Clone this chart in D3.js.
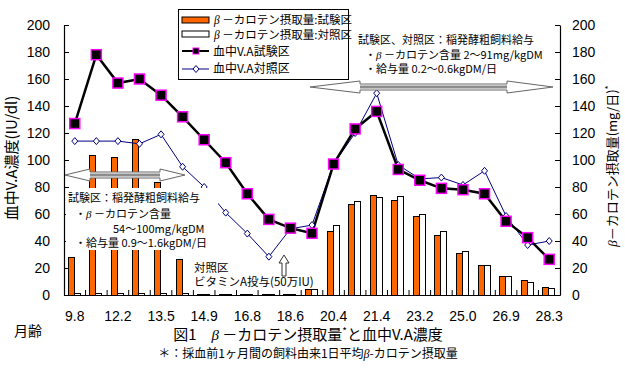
<!DOCTYPE html>
<html>
<head>
<meta charset="utf-8">
<script src="https://cdn.jsdelivr.net/npm/d3@7"></script>
<style>
body { margin: 0; background: #fff; }
svg { display: block; }
.num { font-family: "Liberation Sans", Arial, sans-serif; }
.jp { font-family: "Noto Sans CJK JP", sans-serif; }
</style>
</head>
<body>
<div id="chart"></div>
<script>
// ages (months) shown under every other sampling point
var ages = ["9.8", "12.2", "13.5", "14.9", "16.8", "18.6", "20.4", "21.4", "23.2", "25.0", "26.9", "28.3"]

// blood vitamin A (IU/dl)
var vaTest = [127, 178, 157, 160, 148, 132, 115, 98, 75, 56, 49.5, 45.7, 97, 123, 136, 93, 85, 79, 78, 75, 54.6, 42.5, 26.4]
var vaCtrl = [114, 114, 114, 112, 119, 95, 80, 61, 45.5, 28.4, 49, 51.8, 97, 120, 149.5, 96.3, 86, 87, 81.5, 92, 58.5, 37, 40]

// beta-carotene intake (mg/day)
var betaTest = [28, 103, 101.5, 115, 83, 26, 0.7, 0.7, 0.7, 0.7, 0.7, 4.2, 47, 67, 74, 70, 58.5, 44, 31, 21.7, 14, 10.4, 5.7]
var betaCtrl = [1, 1, 1, 1, 1, 1, 0.7, 0.7, 0.7, 0.7, 0.7, 4.2, 51.6, 69.6, 72.3, 72.6, 60, 46.7, 32.3, 22.2, 14, 9.4, 4.5]

var yTicks = [0, 20, 40, 60, 80, 100, 120, 140, 160, 180, 200]

var W = 625, H = 387
var plotL = 64, plotR = 560, plotT = 25, plotB = 295

var svg = d3.select("#chart").append("svg").attr("width", W).attr("height", H)

var x = d3.scaleBand().domain(d3.range(vaTest.length)).range([plotL, plotR])
var y = d3.scaleLinear().domain([0, 200]).range([plotB, plotT])
var yR = d3.scaleLinear().domain([0, 200]).range([plotB, plotT])
var cx = function(i) { return x(i) + x.bandwidth() / 2 }

// bars
var bars = svg.append("g").attr("shape-rendering", "crispEdges")
bars.selectAll("rect.t").data(betaTest).enter().append("rect")
    .attr("x", function(d, i) { return cx(i) - 6.5 })
    .attr("y", function(d) { return yR(d) })
    .attr("width", 6)
    .attr("height", function(d) { return yR(0) - yR(d) })
    .attr("fill", "#ff6600").attr("stroke", "#000").attr("stroke-width", 1)
bars.selectAll("rect.c").data(betaCtrl).enter().append("rect")
    .attr("x", function(d, i) { return cx(i) - 0.5 })
    .attr("y", function(d) { return yR(d) })
    .attr("width", 6)
    .attr("height", function(d) { return yR(0) - yR(d) })
    .attr("fill", "#fff").attr("stroke", "#000").attr("stroke-width", 1)

// lines
var line = d3.line().x(function(d, i) { return cx(i) }).y(function(d) { return y(d) })
svg.append("path").datum(vaCtrl).attr("d", line)
    .attr("fill", "none").attr("stroke", "#000080").attr("stroke-width", 1)
svg.append("path").datum(vaTest).attr("d", line)
    .attr("fill", "none").attr("stroke", "#000").attr("stroke-width", 2.5)

var diamond = "M0,-3.5L3,0L0,3.5L-3,0Z"
svg.append("g").selectAll("path").data(vaCtrl).enter().append("path")
    .attr("d", diamond)
    .attr("transform", function(d, i) { return "translate(" + cx(i) + "," + y(d) + ")" })
    .attr("fill", "#fff").attr("stroke", "#000080").attr("stroke-width", 1)
svg.append("g").selectAll("rect").data(vaTest).enter().append("rect")
    .attr("x", function(d, i) { return cx(i) - 5 })
    .attr("y", function(d) { return y(d) - 5 })
    .attr("width", 10).attr("height", 10)
    .attr("fill", "#000").attr("stroke", "#ff00ff").attr("stroke-width", 1.5)

// axes
var gl = svg.append("g").attr("class", "num").attr("transform", "translate(" + plotL + ",0)")
    .call(d3.axisLeft(y).tickValues(yTicks).tickSize(-5).tickSizeOuter(0).tickPadding(14))
var gr = svg.append("g").attr("class", "num").attr("transform", "translate(" + plotR + ",0)")
    .call(d3.axisRight(yR).tickValues(yTicks).tickSize(-5).tickSizeOuter(0).tickPadding(12))
var gb = svg.append("g").attr("class", "num").attr("transform", "translate(0," + plotB + ")")
    .call(d3.axisBottom(x).tickValues(d3.range(0, vaTest.length, 2)).tickSize(0).tickSizeOuter(0).tickPadding(16)
        .tickFormat(function(d, i) { return ages[i] }))
svg.selectAll(".domain").attr("stroke", "#000").attr("stroke-width", 1.2)
svg.selectAll(".tick text").attr("font-size", 14).attr("fill", "#000")
    .attr("font-family", "Liberation Sans, Arial, sans-serif")

// ticks between sampling points
svg.append("g").selectAll("line").data(d3.range(1, vaTest.length)).enter().append("line")
    .attr("x1", function(d) { return x(d) }).attr("x2", function(d) { return x(d) })
    .attr("y1", plotB).attr("y2", plotB - 5)
    .attr("stroke", "#000")

// white annotation box (covers bars and control line)
svg.append("rect").attr("x", 66).attr("y", 188).attr("width", 152).attr("height", 62).attr("fill", "#fff")

function doubleArrow(x1, x2, yy, h1, h2) {
    var hh = 6, sh = 3
    var pts = [[x1, yy], [x1 + h1, yy - hh], [x1 + h1, yy - sh], [x2 - h2, yy - sh], [x2 - h2, yy - hh], [x2, yy],
        [x2 - h2, yy + hh], [x2 - h2, yy + sh], [x1 + h1, yy + sh], [x1 + h1, yy + hh]]
    svg.append("path").attr("d", "M" + pts.join("L") + "Z")
        .attr("fill", "#fff").attr("stroke", "#666").attr("stroke-width", 1)
    svg.append("rect").attr("x", x1 + h1).attr("y", yy - 1.5).attr("width", x2 - h2 - x1 - h1).attr("height", 3)
        .attr("fill", "#8c8c8c")
}
doubleArrow(65, 185, 175, 25, 25)
doubleArrow(310, 553, 87, 50, 46)

// up arrow
svg.append("path")
    .attr("d", "M284,255L289,263L286,263L286,276L282,276L282,263L279,263Z")
    .attr("fill", "#fff").attr("stroke", "#333").attr("stroke-width", 1)

function jtext(tx, ty, s, size, anchor) {
    return svg.append("text").attr("class", "jp").attr("x", tx).attr("y", ty)
        .attr("font-size", size).attr("fill", "#000").attr("text-anchor", anchor || "start").text(s)
}
function beta(sel, pre, post) {
    sel.text(pre)
    sel.append("tspan").attr("font-family", "Liberation Serif, serif").attr("font-style", "italic").text("β")
    sel.append("tspan").text(post)
    return sel
}

// annotations
jtext(68, 202, "試験区：稲発酵粗飼料給与", 11)
beta(jtext(75, 218, "", 11), "・", " －カロテン含量")
jtext(113, 233, "54～100mg/kgDM", 11)
jtext(75, 247, "・給与量  0.9～1.6kgDM/日", 11)

jtext(358, 44, "試験区、対照区：稲発酵粗飼料給与", 11)
beta(jtext(365, 58.5, "", 11), "・", " －カロテン含量  2～91mg/kgDM")
jtext(365, 73, "・給与量  0.2～0.6kgDM/日", 11)

jtext(194, 272, "対照区", 11.5)
jtext(194, 286, "ビタミンA投与(50万IU)", 11.5)

// legend
var lg = svg.append("g")
lg.append("rect").attr("x", 178.5).attr("y", 9.5).attr("width", 170).attr("height", 70)
    .attr("fill", "#fff").attr("stroke", "#000").attr("stroke-width", 1)
lg.append("rect").attr("x", 182).attr("y", 17).attr("width", 27).attr("height", 6)
    .attr("fill", "#ff6600").attr("stroke", "#000")
lg.append("rect").attr("x", 182).attr("y", 31).attr("width", 27).attr("height", 6)
    .attr("fill", "#fff").attr("stroke", "#000")
lg.append("line").attr("x1", 182).attr("x2", 209).attr("y1", 51).attr("y2", 51).attr("stroke", "#000").attr("stroke-width", 2)
lg.append("rect").attr("x", 193).attr("y", 48).attr("width", 6).attr("height", 6)
    .attr("fill", "#000").attr("stroke", "#ff00ff")
lg.append("line").attr("x1", 182).attr("x2", 209).attr("y1", 69).attr("y2", 69).attr("stroke", "#000080")
lg.append("path").attr("d", diamond).attr("transform", "translate(196,69)")
    .attr("fill", "#fff").attr("stroke", "#000080")
beta(jtext(214, 23.5, "", 11.5), "", " －カロテン摂取量:試験区")
beta(jtext(214, 38.5, "", 11.5), "", " －カロテン摂取量:対照区")
jtext(213, 56, "血中V.A試験区", 12)
jtext(213, 73, "血中V.A対照区", 12)

// axis titles
jtext(0, 0, "血中V.A濃度(IU/dl)", 15, "middle")
    .attr("transform", "translate(17,158) rotate(-90)")
var rt = jtext(0, 0, "", 13, "middle").attr("transform", "translate(617,166) rotate(-90)")
beta(rt, "", "－カロテン摂取量(mg/日)")
rt.append("tspan").attr("dy", -5).attr("font-size", 9).text("*")

jtext(28, 336, "月齢", 14, "middle")
var tt = jtext(308, 340, "", 15, "middle")
beta(tt, "図1　", " －カロテン摂取量")
tt.append("tspan").attr("dy", -5).attr("font-size", 10).text("*")
tt.append("tspan").attr("dy", 5).text("と血中V.A濃度")
beta(jtext(308, 358, "", 12, "middle"), "＊：採血前1ヶ月間の飼料由来1日平均", "-カロテン摂取量")
</script>
</body>
</html>
